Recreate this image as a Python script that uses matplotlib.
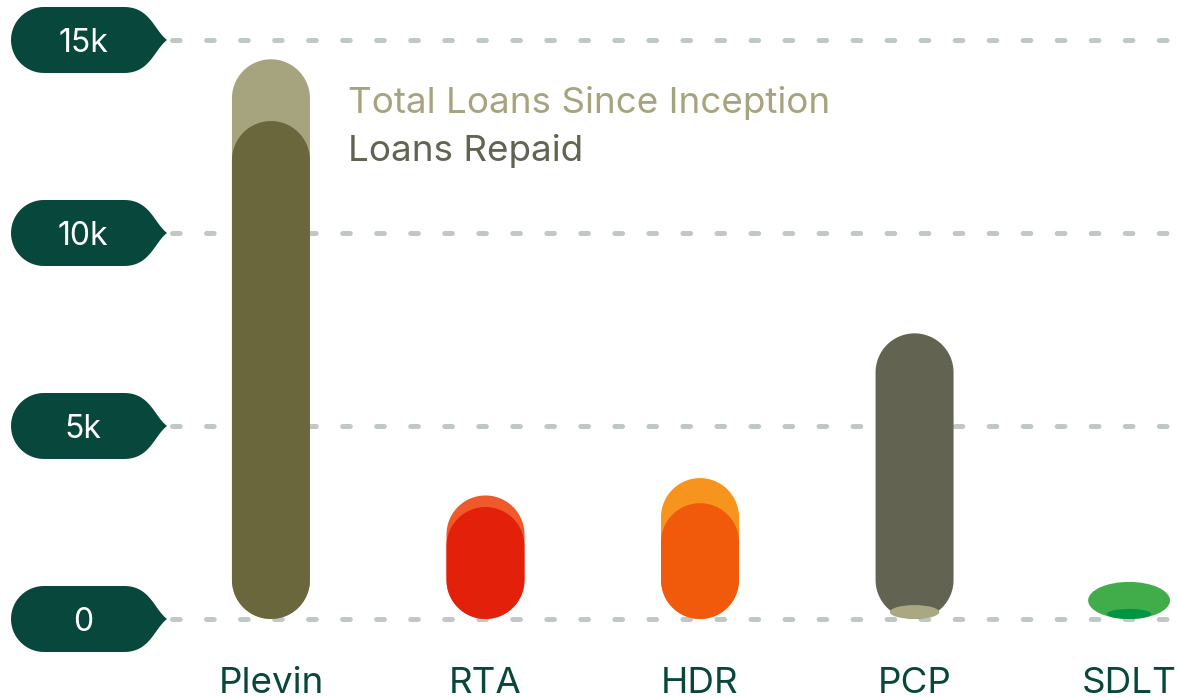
import numpy as np
import matplotlib.pyplot as plt
from matplotlib.patches import Polygon, Ellipse

plt.rcParams['font.family'] = ['Inter', 'DejaVu Sans']
plt.rcParams['lines.scale_dashes'] = False

categories = ['Plevin', 'RTA', 'HDR', 'PCP', 'SDLT']
total_loans = [14500, 3200, 3650, 360, 960]
loans_repaid = [12900, 2900, 3000, 7400, 260]
total_colors = ['#a6a47f', '#f05a2b', '#f7941e', '#aaa883', '#40ad4a']
repaid_colors = ['#69673b', '#e3200a', '#f05a0a', '#626451', '#009444']
tick_values = [0, 5000, 10000, 15000]
tick_labels = ['0', '5k', '10k', '15k']

BAR_W = 78        # px
DARK = '#08473b'
GRID = '#bfc8c4'

fig = plt.figure(figsize=(11.78, 6.98), dpi=100)
ax = fig.add_axes([0, 0, 1, 1])
ax.set_xlim(-1.263, 4.228)
ax.set_ylim(-2047, 16036)
ax.axis('off')

to_px = ax.transData.transform
to_data = ax.transData.inverted().transform
px_per_x = to_px((1, 0))[0] - to_px((0, 0))[0]


def bar_shape(i, val, color, z):
    cx, base = to_px((i, 0))
    top = to_px((i, val))[1]
    h = top - base
    r = BAR_W / 2
    if h >= BAR_W:
        t = np.linspace(0, np.pi, 60)
        upper = np.column_stack([cx + r * np.cos(t), top - r + r * np.sin(t)])
        lower = np.column_stack([cx - r * np.cos(t), base + r - r * np.sin(t)])
        pts = np.vstack([upper, lower])
        ax.add_patch(Polygon(to_data(pts), closed=True, fc=color, ec='none', zorder=z))
    else:
        # tiny values end up as a flat blob
        ew = (30 + 1.4 * h) / px_per_x
        ax.add_patch(Ellipse((i, val / 2), ew, val, fc=color, ec='none', zorder=z))


def bezier(p0, p1, p2, p3, n=30):
    t = np.linspace(0, 1, n)[:, None]
    return ((1 - t) ** 3 * p0 + 3 * (1 - t) ** 2 * t * p1
            + 3 * (1 - t) * t ** 2 * p2 + t ** 3 * p3)


def badge(val, label):
    cy = to_px((0, val))[1]
    hh = 33
    a = np.linspace(np.pi / 2, 3 * np.pi / 2, 40)
    left = np.column_stack([44 + hh * np.cos(a), cy + hh * np.sin(a)])
    b1 = bezier(np.array([124, cy - hh]), np.array([150, cy - hh]),
                np.array([154, cy - 10]), np.array([167, cy]))
    b2 = bezier(np.array([167, cy]), np.array([154, cy + 10]),
                np.array([150, cy + hh]), np.array([124, cy + hh]))
    pts = np.vstack([left, b1, b2])
    ax.add_patch(Polygon(to_data(pts), closed=True, fc=DARK, ec='none', zorder=5))
    tx, ty = to_data((83, cy))
    ax.text(tx, ty, label, color='white', fontsize=23, ha='center', va='center_baseline', zorder=6)


# grid lines
x0 = to_data((172, 0))[0]
x1 = to_data((1180, 0))[0]
for v in tick_values:
    ax.plot([x0, x1], [v, v], color=GRID, lw=3.6, dashes=(5.5, 19),
            dash_capstyle='round', zorder=1)

for v, lab in zip(tick_values, tick_labels):
    badge(v, lab)

# bars: bigger one at the back
for i in range(len(categories)):
    pair = [(total_loans[i], total_colors[i]), (loans_repaid[i], repaid_colors[i])]
    pair.sort(key=lambda p: -p[0])
    for k, (val, col) in enumerate(pair):
        bar_shape(i, val, col, 2 + k)

# category labels
base_y = to_data((0, 698 - 693))[1]
for i, c in enumerate(categories):
    ax.text(i, base_y, c, color=DARK, fontsize=26.5, ha='center', va='baseline')

# legend text
fig.text(348 / 1178, 1 - 100 / 698, 'Total Loans Since Inception', color='#a6a47f',
         fontsize=26.5, ha='left', va='center_baseline')
fig.text(348 / 1178, 1 - 147 / 698, 'Loans Repaid', color='#626451',
         fontsize=26.5, ha='left', va='center_baseline')

fig.savefig('out.png', dpi=100)
